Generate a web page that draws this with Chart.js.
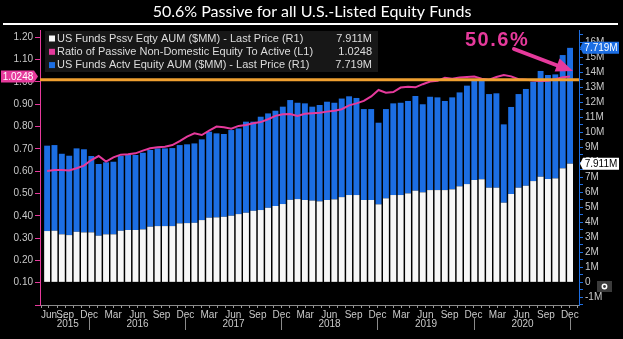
<!DOCTYPE html>
<html><head><meta charset="utf-8">
<script src="https://cdn.jsdelivr.net/npm/chart.js@4.4.0/dist/chart.umd.min.js"></script>
<style>html,body{margin:0;padding:0;background:#000;overflow:hidden}#wrap{width:623px;height:339px;position:relative}</style>
</head><body><div id="wrap"><canvas id="c" width="623" height="339"></canvas></div>
<script>
// ---------- data ----------
const dates = [
'2015-06-24','2015-07-22','2015-08-19','2015-09-16','2015-10-14','2015-11-11','2015-12-09',
'2016-01-06','2016-02-03','2016-03-02','2016-03-30','2016-04-27','2016-05-25','2016-06-22','2016-07-20','2016-08-17','2016-09-14','2016-10-12','2016-11-09','2016-12-07',
'2017-01-04','2017-02-01','2017-03-01','2017-03-29','2017-04-26','2017-05-24','2017-06-21','2017-07-19','2017-08-16','2017-09-13','2017-10-11','2017-11-08','2017-12-06',
'2018-01-03','2018-01-31','2018-02-28','2018-03-28','2018-04-25','2018-05-23','2018-06-20','2018-07-18','2018-08-15','2018-09-12','2018-10-10','2018-11-07','2018-12-05',
'2019-01-02','2019-01-30','2019-02-27','2019-03-27','2019-04-24','2019-05-22','2019-06-19','2019-07-17','2019-08-14','2019-09-11','2019-10-09','2019-11-06','2019-12-04',
'2020-01-01','2020-01-29','2020-02-26','2020-03-25','2020-04-22','2020-05-20','2020-06-17','2020-07-15','2020-08-12','2020-09-09','2020-10-07','2020-11-04','2020-12-02'];

// US Funds Pssv Eqty AUM ($MM, millions) - white, R1
const passiveAUM = [3.42,3.44,3.20,3.15,3.37,3.33,3.33,3.11,3.20,3.20,3.44,3.49,3.49,3.53,3.71,3.75,3.75,3.75,3.93,3.95,
3.97,4.15,4.31,4.33,4.37,4.44,4.55,4.64,4.77,4.82,4.97,5.09,5.22,5.50,5.55,5.49,5.45,5.40,5.49,5.53,
5.68,5.82,5.82,5.49,5.49,5.20,5.60,5.82,5.82,5.93,6.11,6.00,6.15,6.15,6.15,6.20,6.40,6.55,6.82,6.87,
6.31,6.31,5.31,5.89,6.31,6.44,6.75,7.04,6.89,6.93,7.60,7.911];

// US Funds Actv Equity AUM ($MM, millions) - blue, stacked on passive, R1
const activeAUM = [5.69,5.71,5.37,5.29,5.56,5.54,5.09,4.78,4.80,4.84,4.98,5.00,5.00,5.11,5.11,5.18,5.18,5.20,5.22,5.25,
5.29,5.38,5.73,5.60,5.52,5.71,5.71,6.07,5.94,6.22,6.29,6.35,6.49,6.65,6.42,6.44,6.26,6.42,6.55,6.44,
6.57,6.58,6.47,6.06,6.06,5.44,5.95,6.11,6.15,6.16,6.31,5.87,6.22,6.18,5.94,6.13,6.26,6.56,6.60,6.55,
6.24,6.29,5.22,5.80,6.24,6.45,6.62,7.05,6.93,6.93,7.55,7.719];

// Ratio of Passive Non-Domestic Equity To Active - pink, L1
const ratioLine = [0.601,0.605,0.605,0.603,0.613,0.625,0.650,0.668,0.643,0.662,0.674,0.676,0.680,0.692,0.703,0.707,0.710,0.717,0.735,0.755,
0.770,0.762,0.782,0.800,0.797,0.790,0.803,0.807,0.815,0.820,0.833,0.848,0.855,0.856,0.848,0.857,0.860,0.862,0.867,0.871,
0.878,0.895,0.904,0.915,0.935,0.964,0.952,0.955,0.975,0.978,0.976,0.990,1.002,1.005,1.019,1.015,1.020,1.022,1.024,1.015,
1.010,1.022,1.031,1.025,1.012,1.010,1.006,1.004,1.005,1.012,1.021,1.0248];

const monthNames = ['Jan','Feb','Mar','Apr','May','Jun','Jul','Aug','Sep','Oct','Nov','Dec'];
const labelledMonths = ['Mar','Jun','Sep','Dec'];
const firstTickLabel = 'Jun ...';
const yearLabels = ['2015','2016','2017','2018','2019','2020'];
const titleText = '50.6% Passive for all U.S.-Listed Equity Funds';
const seriesNames = [
  'US Funds Pssv Eqty AUM ($MM) - Last Price (R1)',
  'Ratio of Passive Non-Domestic Equity To Active (L1)',
  'US Funds Actv Equity AUM ($MM) - Last Price (R1)'];
const annotationText = '50.6%';
const refLevel = 1.01;            // orange reference line on the left axis
const xRange = ['2015-05-28','2021-01-05'];

// ---------- styles ----------
const WHITE = '#f7f7f7', BLUE = '#1c6ee3', PINK = '#e63a9c', ORANGE = '#f0a030', TXT = '#c9c9c9';
const FONT = '"Liberation Sans", Arial, sans-serif';

const day = s => Date.parse(s + 'T00:00:00Z') / 864e5;
const xs = dates.map(day);
const last = dates.length - 1;

const overlay = {
  id: 'overlay',
  afterDatasetsDraw(chart) {
    const {ctx, chartArea: a, scales} = chart;
    const y = scales.yL.getPixelForValue(refLevel);
    ctx.save();
    ctx.strokeStyle = ORANGE; ctx.lineWidth = 3;
    ctx.beginPath(); ctx.moveTo(a.left, y); ctx.lineTo(a.right, y); ctx.stroke();
    ctx.restore();
  },
  afterDraw(chart) {
    const {ctx, chartArea: a, scales} = chart;
    const x = scales.x, yL = scales.yL, yR = scales.yR;
    ctx.save();
    // title
    ctx.fillStyle = '#ffffff'; ctx.font = '16px Lato, ' + FONT;
    ctx.textAlign = 'center'; ctx.textBaseline = 'middle';
    ctx.fillText(titleText, 312, 12);
    ctx.fillRect(3, 23, 615, 2);

    // legend box
    ctx.fillStyle = '#171717'; ctx.fillRect(45, 31, 333, 41);
    const rows = [
      {c: WHITE, name: seriesNames[0], v: passiveAUM[last].toFixed(3) + 'M'},
      {c: PINK,  name: seriesNames[1], v: ratioLine[last].toFixed(4)},
      {c: BLUE,  name: seriesNames[2], v: activeAUM[last].toFixed(3) + 'M'}];
    ctx.font = '11px ' + FONT; ctx.textBaseline = 'middle';
    rows.forEach((r, i) => {
      const yy = 38.5 + i * 13.3;
      ctx.fillStyle = r.c; ctx.fillRect(49, yy - 3, 6, 6);
      ctx.fillStyle = '#dcdcdc'; ctx.textAlign = 'left'; ctx.fillText(r.name, 57, yy);
      ctx.textAlign = 'right'; ctx.fillText(r.v, 372, yy);
    });

    // year row
    ctx.font = '10px ' + FONT; ctx.fillStyle = TXT; ctx.textAlign = 'center';
    ctx.strokeStyle = '#8a8a8a'; ctx.lineWidth = 1;
    let prev = a.left;
    yearLabels.forEach(yr => {
      const sx = Math.round(x.getPixelForValue(Date.UTC(+yr, 11, 1) / 864e5)) + 0.5;
      ctx.fillText(yr, (prev + sx) / 2 + (prev === a.left ? 3 : 0), 324);
      ctx.beginPath(); ctx.moveTo(sx, 318); ctx.lineTo(sx, 330); ctx.stroke();
      prev = sx;
    });

    // left value tag
    const ly = yL.getPixelForValue(ratioLine[last]);
    ctx.fillStyle = PINK;
    ctx.beginPath(); ctx.moveTo(1, ly - 6); ctx.lineTo(34, ly - 6); ctx.lineTo(38, ly); ctx.lineTo(34, ly + 6); ctx.lineTo(1, ly + 6); ctx.closePath(); ctx.fill();
    ctx.fillStyle = '#fff'; ctx.font = '10px ' + FONT; ctx.textAlign = 'center';
    ctx.fillText(ratioLine[last].toFixed(4), 18, ly + 0.5);

    // right value tags
    const tag = (val, txt, bg, fg) => {
      const ty = yR.getPixelForValue(val);
      ctx.fillStyle = bg;
      ctx.beginPath(); ctx.moveTo(580, ty); ctx.lineTo(583, ty - 6); ctx.lineTo(619, ty - 6); ctx.lineTo(619, ty + 6); ctx.lineTo(583, ty + 6); ctx.closePath(); ctx.fill();
      ctx.fillStyle = fg; ctx.textAlign = 'center'; ctx.fillText(txt, 601, ty + 0.5);
    };
    tag(passiveAUM[last] + activeAUM[last], activeAUM[last].toFixed(3) + 'M', BLUE, '#fff');
    tag(passiveAUM[last], passiveAUM[last].toFixed(3) + 'M', '#ffffff', '#000');

    // annotation
    ctx.fillStyle = PINK; ctx.font = 'bold 20px ' + FONT; ctx.textAlign = 'left'; ctx.textBaseline = 'alphabetic';
    try { ctx.letterSpacing = '1.5px'; } catch (e) {}
    ctx.fillText(annotationText, 465, 46);
    try { ctx.letterSpacing = '0px'; } catch (e) {}
    ctx.strokeStyle = PINK; ctx.lineWidth = 4; ctx.lineCap = 'round';
    ctx.beginPath(); ctx.moveTo(514, 49); ctx.lineTo(560, 66.5); ctx.stroke();
    ctx.beginPath(); ctx.moveTo(573, 71); ctx.lineTo(554.6, 71.6); ctx.lineTo(559.6, 58.4); ctx.closePath(); ctx.fill();

    // small settings button
    ctx.fillStyle = '#3c3c3c'; ctx.fillRect(597, 281, 15, 11);
    ctx.strokeStyle = '#fff'; ctx.lineWidth = 1.5;
    ctx.beginPath(); ctx.arc(604.5, 286.5, 2.2, 0, Math.PI * 2); ctx.stroke();
    ctx.restore();
  }
};

Chart.defaults.font.family = FONT;
Chart.defaults.color = TXT;

new Chart(document.getElementById('c'), {
  type: 'bar',
  data: {
    datasets: [
      { type: 'line', label: seriesNames[1], yAxisID: 'yL', order: 0,
        data: xs.map((v, i) => ({x: v, y: ratioLine[i]})),
        borderColor: PINK, borderWidth: 2, pointRadius: 0, tension: 0, fill: false },
      { label: seriesNames[0], yAxisID: 'yR', order: 1,
        data: xs.map((v, i) => ({x: v, y: passiveAUM[i]})),
        backgroundColor: WHITE, borderWidth: 0, barPercentage: 0.8, categoryPercentage: 1 },
      { label: seriesNames[2], yAxisID: 'yR', order: 2,
        data: xs.map((v, i) => ({x: v, y: activeAUM[i]})),
        backgroundColor: BLUE, borderWidth: 0, barPercentage: 0.8, categoryPercentage: 1 }
    ]
  },
  options: {
    responsive: false, animation: false, devicePixelRatio: 1, events: [],
    layout: { padding: { top: 30, left: 0, right: 0, bottom: 0 } },
    plugins: { legend: { display: false }, tooltip: { enabled: false } },
    scales: {
      x: {
        type: 'linear', stacked: true, offset: false,
        min: day(xRange[0]), max: day(xRange[1]),
        afterBuildTicks: (s) => {
          const t = [];
          for (let yy = 2015; yy <= 2021; yy++) for (let m = 0; m < 12; m++) {
            const v = Date.UTC(yy, m, 1) / 864e5;
            if (v >= s.min && v <= s.max) t.push({value: v});
          }
          s.ticks = t;
        },
        afterFit: (s) => { s.height = 34; },
        ticks: {
          autoSkip: false, maxRotation: 0, minRotation: 0, align: 'inner', padding: 1,
          color: TXT, font: { size: 10 },
          callback: (v, i) => {
            if (i === 0) return firstTickLabel;
            const mn = monthNames[new Date(v * 864e5).getUTCMonth()];
            return labelledMonths.includes(mn) ? mn : '';
          }
        },
        grid: { display: true, drawOnChartArea: false, drawTicks: true, tickLength: 3, tickColor: '#9a9a9a', offset: false },
        border: { display: true, color: '#8a8a8a', width: 1 }
      },
      yL: {
        type: 'linear', position: 'left', min: 0, max: 1.233,
        afterFit: (s) => { s.width = 40; },
        ticks: { stepSize: 0.1, includeBounds: false, autoSkip: false, padding: 2, color: TXT, font: { size: 10 },
          callback: (v) => v < 0.05 ? '' : v.toFixed(2) },
        grid: { drawOnChartArea: false, drawTicks: true, tickLength: 5, tickColor: PINK },
        border: { display: true, color: PINK, width: 1 }
      },
      yR: {
        type: 'linear', position: 'right', stacked: true, min: -1.51, max: 16.82,
        afterFit: (s) => { s.width = 44; },
        ticks: { stepSize: 0.5, includeBounds: false, autoSkip: false, padding: 2, color: TXT, font: { size: 10 },
          callback: (v) => {
            if (Math.abs(v - Math.round(v)) > 1e-6) return '';
            const r = Math.round(v);
            return r === 0 ? '0' : r + 'M';
          } },
        grid: { drawOnChartArea: false, drawTicks: true, tickLength: 4, tickColor: BLUE },
        border: { display: true, color: BLUE, width: 1 }
      }
    }
  },
  plugins: [overlay]
});
</script>
</body></html>
